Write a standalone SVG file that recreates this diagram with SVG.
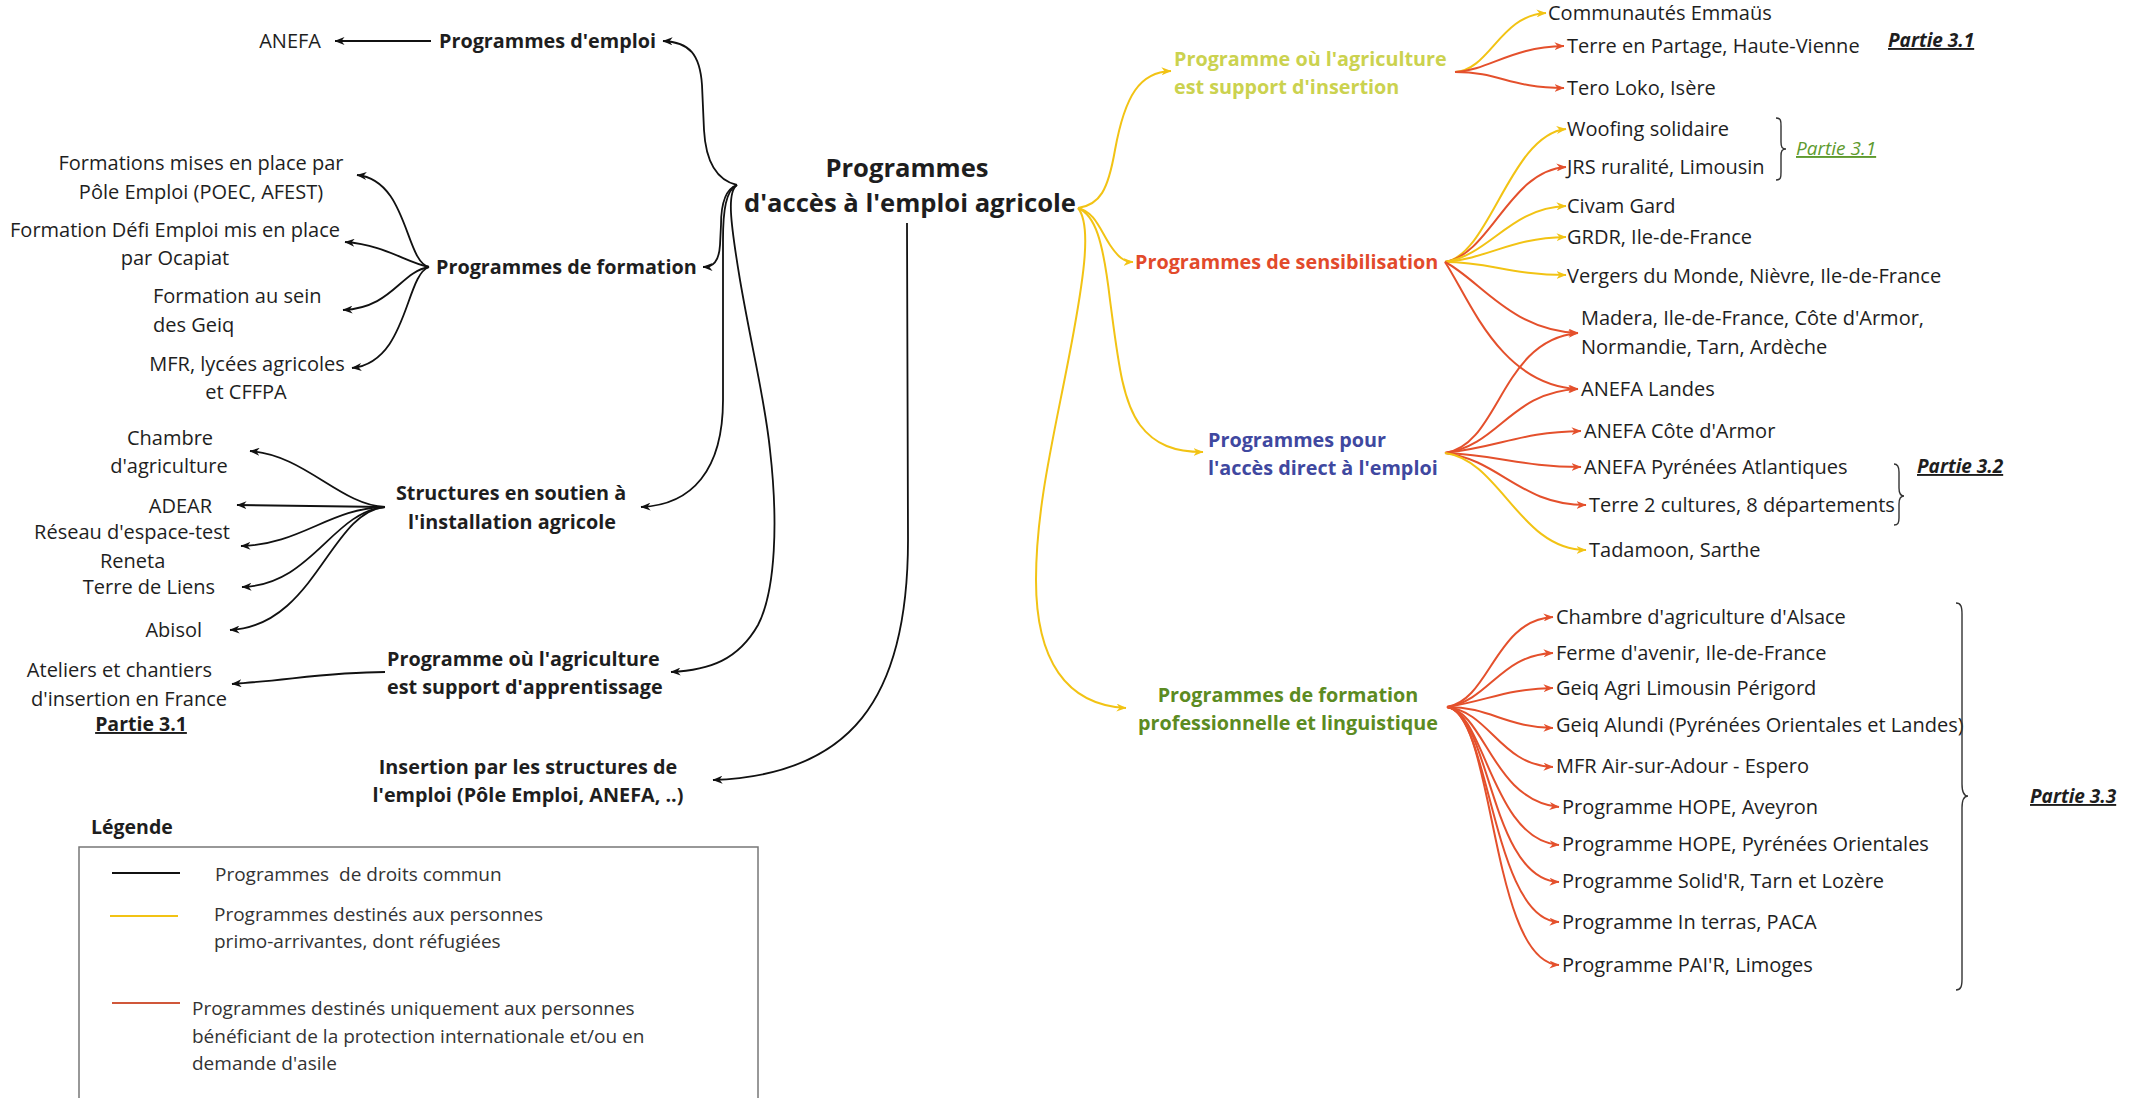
<svg xmlns="http://www.w3.org/2000/svg" width="2134" height="1098" viewBox="0 0 2134 1098">
<defs>
<style>
.t{font-family:"Open Sans","Liberation Sans",sans-serif;font-size:20px;fill:#1e1e1e}
.b{font-weight:700;font-size:19.8px}
.c{text-anchor:middle}
.e{text-anchor:end}
.lg{font-size:19px;fill:#333}
.p{font-weight:700;font-style:italic;text-decoration:underline;font-size:19px}
.k{fill:none;stroke:#111;stroke-width:1.8}
.y{fill:none;stroke:#f2c314;stroke-width:2}
.r{fill:none;stroke:#e4502c;stroke-width:2}
.br{fill:none;stroke:#333;stroke-width:1.4}
</style>
<marker id="ak" viewBox="0 0 10 8" refX="9.5" refY="4" markerWidth="10" markerHeight="8" markerUnits="userSpaceOnUse" orient="auto"><path d="M0,0 L10,4 L0,8 L3,4 z" fill="#111"/></marker>
<marker id="ay" viewBox="0 0 10 8" refX="9.5" refY="4" markerWidth="10" markerHeight="8" markerUnits="userSpaceOnUse" orient="auto"><path d="M0,0 L10,4 L0,8 L3,4 z" fill="#f2c314"/></marker>
<marker id="ar" viewBox="0 0 10 8" refX="9.5" refY="4" markerWidth="10" markerHeight="8" markerUnits="userSpaceOnUse" orient="auto"><path d="M0,0 L10,4 L0,8 L3,4 z" fill="#e4502c"/></marker>
</defs>
<rect width="2134" height="1098" fill="#fff"/>

<g id="connectors">
<path class="k" marker-end="url(#ak)" d="M737,185 C720,181 706,166 704,130 L702,85 C700,55 690,42 663,41"/>
<path class="k" marker-end="url(#ak)" d="M737,185 C725,189 721,205 721,225 L720,245 C719,262 713,267 703,267"/>
<path class="k" marker-end="url(#ak)" d="M737,185 C726,190 723,210 723,240 L723,400 C723,470 692,505 641,507"/>
<path class="k" marker-end="url(#ak)" d="M737,185 C727,192 730,220 740,280 C752,350 765,400 770,450 C778,520 776,590 758,625 C738,660 710,670 671,672"/>
<path class="k" marker-end="url(#ak)" d="M907,223 L908,540 C908,700 850,775 713,780"/>
<path class="k" marker-end="url(#ak)" d="M431,41 L335,41"/>
<path class="k" marker-end="url(#ak)" d="M429,267 C405,262 408,180 357,175"/>
<path class="k" marker-end="url(#ak)" d="M429,267 C405,262 385,245 345,242"/>
<path class="k" marker-end="url(#ak)" d="M429,267 C400,272 392,308 343,310"/>
<path class="k" marker-end="url(#ak)" d="M429,267 C405,275 408,362 352,368"/>
<path class="k" marker-end="url(#ak)" d="M385,507 C340,505 305,455 250,451"/>
<path class="k" marker-end="url(#ak)" d="M385,507 L237,505"/>
<path class="k" marker-end="url(#ak)" d="M385,507 C330,508 300,545 241,546"/>
<path class="k" marker-end="url(#ak)" d="M385,507 C332,512 312,585 242,587"/>
<path class="k" marker-end="url(#ak)" d="M385,507 C330,512 315,626 230,630"/>
<path class="k" marker-end="url(#ak)" d="M385,672 C330,672 290,680 232,684"/>

<path class="y" marker-end="url(#ay)" d="M1078,208 C1100,205 1108,190 1115,150 C1125,95 1140,72 1171,71"/>
<path class="y" marker-end="url(#ay)" d="M1078,208 C1095,212 1100,230 1110,245 C1118,257 1124,262 1133,262"/>
<path class="y" marker-end="url(#ay)" d="M1078,208 C1095,215 1103,240 1110,300 C1118,360 1122,400 1140,425 C1155,445 1175,452 1203,452"/>
<path class="y" marker-end="url(#ay)" d="M1078,208 C1092,225 1083,280 1074,330 C1058,420 1036,500 1036,580 C1036,660 1066,705 1126,708"/>

<path class="y" marker-end="url(#ay)" d="M1455,72 C1490,70 1500,15 1546,13"/>
<path class="r" marker-end="url(#ar)" d="M1455,72 C1490,70 1510,47 1564,46"/>
<path class="r" marker-end="url(#ar)" d="M1455,72 C1500,72 1510,88 1564,88"/>

<path class="y" marker-end="url(#ay)" d="M1445,262 C1490,255 1510,135 1566,129"/>
<path class="r" marker-end="url(#ar)" d="M1445,262 C1490,255 1510,170 1566,167"/>
<path class="y" marker-end="url(#ay)" d="M1445,262 C1490,255 1510,208 1566,206"/>
<path class="y" marker-end="url(#ay)" d="M1445,262 C1490,258 1510,238 1566,237"/>
<path class="y" marker-end="url(#ay)" d="M1445,262 C1490,262 1510,275 1566,275"/>
<path class="r" marker-end="url(#ar)" d="M1445,262 C1480,280 1510,330 1578,333"/>
<path class="r" marker-end="url(#ar)" d="M1445,262 C1470,300 1500,385 1578,389"/>

<path class="r" marker-end="url(#ar)" d="M1445,453 C1500,445 1500,340 1578,333"/>
<path class="r" marker-end="url(#ar)" d="M1445,453 C1500,445 1510,392 1578,389"/>
<path class="r" marker-end="url(#ar)" d="M1445,453 C1500,447 1520,432 1581,431"/>
<path class="r" marker-end="url(#ar)" d="M1445,453 C1500,455 1520,467 1581,467"/>
<path class="r" marker-end="url(#ar)" d="M1445,453 C1500,460 1520,505 1586,505"/>
<path class="y" marker-end="url(#ay)" d="M1445,453 C1500,460 1520,550 1586,550"/>

<path class="r" marker-end="url(#ar)" d="M1447,707 C1490,700 1495,620 1553,617"/>
<path class="r" marker-end="url(#ar)" d="M1447,707 C1490,700 1500,655 1553,653"/>
<path class="r" marker-end="url(#ar)" d="M1447,707 C1490,700 1505,689 1553,688"/>
<path class="r" marker-end="url(#ar)" d="M1447,707 C1490,707 1505,727 1553,728"/>
<path class="r" marker-end="url(#ar)" d="M1447,707 C1490,712 1500,765 1553,767"/>
<path class="r" marker-end="url(#ar)" d="M1447,707 C1485,712 1492,800 1559,807"/>
<path class="r" marker-end="url(#ar)" d="M1447,707 C1485,712 1492,840 1559,845"/>
<path class="r" marker-end="url(#ar)" d="M1447,707 C1490,712 1490,880 1559,882"/>
<path class="r" marker-end="url(#ar)" d="M1447,707 C1490,712 1492,920 1559,922"/>
<path class="r" marker-end="url(#ar)" d="M1447,707 C1495,712 1490,962 1559,965"/>
</g>

<g id="n-centre"><text class="t b c" style="font-size:25.6px" x="907" y="177">Programmes</text><text class="t b c" style="font-size:25.6px" x="910" y="212">d'accès à l'emploi agricole</text></g>

<g id="n-prog-emploi"><text class="t b" x="439" y="48">Programmes d'emploi</text></g>
<g id="n-anefa"><text class="t e" x="321" y="48">ANEFA</text></g>
<g id="n-prog-formation"><text class="t b" x="436" y="274">Programmes de formation</text></g>
<g id="n-pole-emploi"><text class="t c" x="201" y="170">Formations mises en place par</text><text class="t c" x="201" y="199">Pôle Emploi (POEC, AFEST)</text></g>
<g id="n-defi"><text class="t c" x="175" y="237">Formation Défi Emploi mis en place</text><text class="t c" x="175" y="265">par Ocapiat</text></g>
<g id="n-geiq"><text class="t" x="153" y="303">Formation au sein</text><text class="t" x="153" y="332">des Geiq</text></g>
<g id="n-mfr"><text class="t c" x="247" y="371">MFR, lycées agricoles</text><text class="t c" x="246" y="399">et CFFPA</text></g>

<g id="n-structures"><text class="t b c" x="511" y="500">Structures en soutien à</text><text class="t b c" x="512" y="529">l'installation agricole</text></g>
<g id="n-chambre"><text class="t c" x="170" y="445">Chambre</text><text class="t c" x="169" y="473">d'agriculture</text></g>
<g id="n-adear"><text class="t e" x="212" y="513">ADEAR</text></g>
<g id="n-reseau"><text class="t e" x="230" y="539">Réseau d'espace-test</text></g>
<g id="n-reneta"><text class="t" x="100" y="568">Reneta</text></g>
<g id="n-tdl"><text class="t e" x="215" y="594">Terre de Liens</text></g>
<g id="n-abisol"><text class="t e" x="202" y="637">Abisol</text></g>

<g id="n-apprentissage"><text class="t b" x="387" y="666">Programme où l'agriculture</text><text class="t b" x="387" y="694">est support d'apprentissage</text></g>
<g id="n-ateliers"><text class="t e" x="212" y="677">Ateliers et chantiers</text><text class="t e" x="227" y="706">d'insertion en France</text><text class="t c" style="font-weight:700;text-decoration:underline;font-size:19.5px" x="141" y="731">Partie 3.1</text></g>

<g id="n-insertion-structures"><text class="t b c" x="528" y="774">Insertion par les structures de</text><text class="t b c" x="528" y="802">l'emploi (Pôle Emploi, ANEFA, ..)</text></g>

<g id="legend">
<text class="t b" style="font-size:19.5px" x="91" y="834">Légende</text>
<rect x="79" y="847" width="679" height="270" fill="none" stroke="#777" stroke-width="1.5"/>
<line x1="112" y1="873" x2="180" y2="873" stroke="#111" stroke-width="1.8"/>
<text class="t lg" x="215" y="881" xml:space="preserve">Programmes  de droits commun</text>
<line x1="110" y1="916" x2="178" y2="916" stroke="#f2c314" stroke-width="2"/>
<text class="t lg" x="214" y="921">Programmes destinés aux personnes</text>
<text class="t lg" x="214" y="948">primo-arrivantes, dont réfugiées</text>
<line x1="112" y1="1003" x2="180" y2="1003" stroke="#d0573a" stroke-width="2"/>
<text class="t lg" x="192" y="1015">Programmes destinés uniquement aux personnes</text>
<text class="t lg" x="192" y="1043">bénéficiant de la protection internationale et/ou en</text>
<text class="t lg" x="192" y="1070">demande d'asile</text>
</g>

<g id="n-insertion"><text class="t b" style="fill:#cbd24f" x="1174" y="66">Programme où l'agriculture</text><text class="t b" style="fill:#cbd24f" x="1174" y="94">est support d'insertion</text></g>
<g id="n-emmaus"><text class="t" x="1548" y="20">Communautés Emmaüs</text></g>
<g id="n-partage"><text class="t" x="1567" y="53">Terre en Partage, Haute-Vienne</text></g>
<g id="n-tero"><text class="t" x="1567" y="95">Tero Loko, Isère</text></g>
<g id="p31a"><text class="t p" x="1888" y="47">Partie 3.1</text></g>

<g id="n-sensibilisation"><text class="t b" style="fill:#e24a2b" x="1135" y="269">Programmes de sensibilisation</text></g>
<g id="n-woofing"><text class="t" x="1567" y="136">Woofing solidaire</text></g>
<g id="n-jrs"><text class="t" x="1567" y="174">JRS ruralité, Limousin</text></g>
<g id="n-civam"><text class="t" x="1567" y="213">Civam Gard</text></g>
<g id="n-grdr"><text class="t" x="1567" y="244">GRDR, Ile-de-France</text></g>
<g id="n-vergers"><text class="t" x="1567" y="283">Vergers du Monde, Nièvre, Ile-de-France</text></g>
<g id="n-madera"><text class="t" x="1581" y="325">Madera, Ile-de-France, Côte d'Armor,</text><text class="t" x="1581" y="354">Normandie, Tarn, Ardèche</text></g>
<g id="n-anefa-landes"><text class="t" x="1581" y="396">ANEFA Landes</text></g>
<g id="p31b"><path class="br" d="M1776,118 C1781,118 1781,121 1781,126 L1781,142 C1781,147 1782,149 1786,149 C1782,149 1781,151 1781,156 L1781,172 C1781,177 1781,180 1776,180"/><text class="t" style="font-size:19px;font-style:italic;text-decoration:underline;fill:#5e9a2e" x="1796" y="155">Partie 3.1</text></g>

<g id="n-acces"><text class="t b" style="fill:#3f48a0" x="1208" y="447">Programmes pour</text><text class="t b" style="fill:#3f48a0" x="1208" y="475">l'accès direct à l'emploi</text></g>
<g id="n-anefa-cote"><text class="t" x="1584" y="438">ANEFA Côte d'Armor</text></g>
<g id="n-anefa-pyr"><text class="t" x="1584" y="474">ANEFA Pyrénées Atlantiques</text></g>
<g id="n-terre2"><text class="t" x="1589" y="512">Terre 2 cultures, 8 départements</text></g>
<g id="n-tadamoon"><text class="t" x="1589" y="557">Tadamoon, Sarthe</text></g>
<g id="p32"><path class="br" d="M1894,464 C1898,464 1899,467 1899,472 L1899,488 C1899,493 1900,496 1904,496 C1900,496 1899,499 1899,504 L1899,518 C1899,523 1898,525 1894,525"/><text class="t p" x="1917" y="473">Partie 3.2</text></g>

<g id="n-formation-pro"><text class="t b c" style="fill:#5c8b22" x="1288" y="702">Programmes de formation</text><text class="t b c" style="fill:#5c8b22" x="1288" y="730">professionnelle et linguistique</text></g>
<g id="n-alsace"><text class="t" x="1556" y="624">Chambre d'agriculture d'Alsace</text></g>
<g id="n-ferme"><text class="t" x="1556" y="660">Ferme d'avenir, Ile-de-France</text></g>
<g id="n-geiq-agri"><text class="t" x="1556" y="695">Geiq Agri Limousin Périgord</text></g>
<g id="n-geiq-alundi"><text class="t" x="1556" y="732">Geiq Alundi (Pyrénées Orientales et Landes)</text></g>
<g id="n-mfr-espero"><text class="t" x="1556" y="773">MFR Air-sur-Adour - Espero</text></g>
<g id="n-hope-av"><text class="t" x="1562" y="814">Programme HOPE, Aveyron</text></g>
<g id="n-hope-po"><text class="t" x="1562" y="851">Programme HOPE, Pyrénées Orientales</text></g>
<g id="n-solidr"><text class="t" x="1562" y="888">Programme Solid'R, Tarn et Lozère</text></g>
<g id="n-interras"><text class="t" x="1562" y="929">Programme In terras, PACA</text></g>
<g id="n-pair"><text class="t" x="1562" y="972">Programme PAI'R, Limoges</text></g>
<g id="p33"><path class="br" d="M1956,603 C1961,603 1962,607 1962,614 L1962,784 C1962,792 1964,796 1968,796 C1964,796 1962,800 1962,808 L1962,979 C1962,986 1961,990 1956,990"/><text class="t p" x="2030" y="803">Partie 3.3</text></g>
</svg>
